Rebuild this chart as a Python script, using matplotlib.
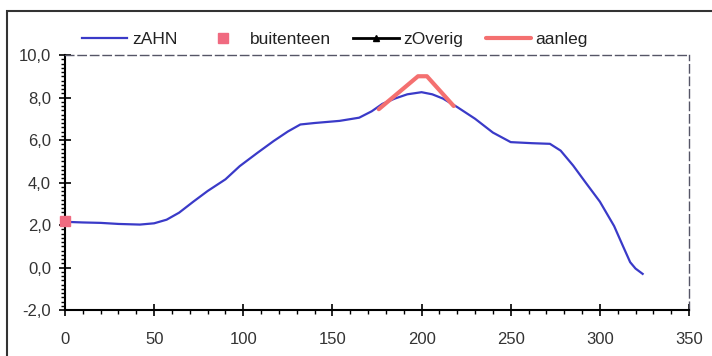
import matplotlib.pyplot as plt
from matplotlib.ticker import MultipleLocator, FuncFormatter
from matplotlib.patches import Rectangle

plt.rcParams['font.family'] = ['Liberation Sans', 'DejaVu Sans']

# zAHN profiel (afstand, hoogte)
ahn_x = [0, 10, 20, 30, 42, 50, 57, 64, 72, 80, 90, 98, 108, 117, 125, 132, 140, 154,
         165, 172, 178, 185, 192, 200, 206, 212, 220, 230, 240, 250, 262, 272, 278,
         285, 292, 300, 308, 313, 317, 320, 324]
ahn_y = [2.15, 2.12, 2.1, 2.05, 2.02, 2.08, 2.25, 2.58, 3.1, 3.6, 4.15, 4.77, 5.4, 5.95,
         6.4, 6.73, 6.8, 6.9, 7.05, 7.35, 7.7, 7.95, 8.15, 8.25, 8.15, 7.95, 7.55, 7.0,
         6.35, 5.9, 5.85, 5.82, 5.5, 4.8, 4.0, 3.1, 1.95, 1.0, 0.25, -0.05, -0.3]

# buitenteen
teen_x = [0]
teen_y = [2.2]

# aanleg
aanleg_x = [176, 198, 203, 218]
aanleg_y = [7.45, 9.0, 9.0, 7.6]

# zOverig (leeg)
overig_x = []
overig_y = []

fig = plt.figure(figsize=(7.12, 3.56), dpi=100)
ax = fig.add_axes([0.0913, 0.1292, 0.8764, 0.7163])

ax.plot(ahn_x, ahn_y, color='#3a3ac8', lw=1.6, label='zAHN', zorder=3)
ax.plot(teen_x, teen_y, ls='none', marker='s', ms=7, color='#f06a80', label='buitenteen',
        zorder=5, clip_on=False)
ax.plot(overig_x, overig_y, color='black', lw=2, marker='^', ms=5, label='zOverig')
ax.plot(aanleg_x, aanleg_y, color='#f47070', lw=3, label='aanleg', zorder=4,
        solid_capstyle='round')

ax.set_xlim(0, 350)
ax.set_ylim(-2, 10)
ax.xaxis.set_major_locator(MultipleLocator(50))
ax.xaxis.set_minor_locator(MultipleLocator(10))
ax.yaxis.set_major_locator(MultipleLocator(2))
ax.yaxis.set_minor_locator(MultipleLocator(0.2))
ax.yaxis.set_major_formatter(FuncFormatter(lambda v, p: f'{v:.1f}'.replace('.', ',')))
ax.tick_params(which='major', direction='inout', length=8, width=1.2, labelsize=12,
               colors='black', labelcolor='#333333', pad=6)
ax.tick_params(axis='x', which='major', pad=12)
ax.tick_params(which='minor', direction='out', length=3, width=1)

for s in ['left', 'bottom']:
    ax.spines[s].set_linewidth(1.5)
    ax.spines[s].set_color('black')
for s in ['top', 'right']:
    ax.spines[s].set_linestyle((0, (6, 3)))
    ax.spines[s].set_color('#555566')
    ax.spines[s].set_linewidth(1.0)

fig.legend(loc='lower left', bbox_to_anchor=(82 / 712, 0.868), ncol=4, frameon=False,
           fontsize=12.5, handlelength=2.62, handletextpad=0.25, columnspacing=1.3,
           borderpad=0, borderaxespad=0, labelcolor='#222222')

# buitenste kader
fig.patches.append(Rectangle((7 / 712, -0.01), 1.0, 1 - 11 / 356 + 0.01,
                             transform=fig.transFigure, fill=False,
                             edgecolor='#333333', lw=1.5))

fig.savefig('out.png', dpi=100)
